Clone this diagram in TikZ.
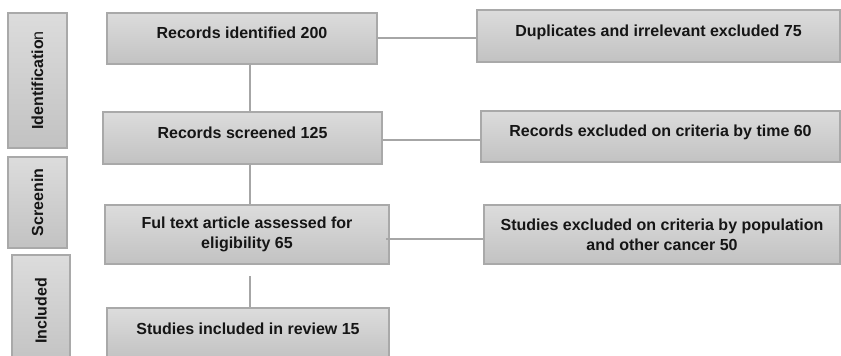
\documentclass[tikz,border=0pt]{standalone}
\usepackage{fontspec}
\setmainfont{Liberation Sans}
\definecolor{boxtop}{HTML}{DCDCDC}
\definecolor{boxbot}{HTML}{C2C2C2}
\definecolor{boxline}{HTML}{A9A9A9}
\definecolor{linec}{HTML}{A6A6A6}
\definecolor{textc}{HTML}{151515}
\begin{document}
\begin{tikzpicture}[x=1pt,y=-1pt,
  box/.style={draw=boxline, line width=1.3pt, top color=boxtop, bottom color=boxbot,
    inner sep=0pt, font=\fontsize{16}{20}\selectfont\bfseries, text=textc, align=center},
  oneline/.style={box, text height=11.7pt, text depth=11pt},
  side/.style={box, rotate=90},
  link/.style={draw=linec, line width=1.2pt}]
\useasboundingbox (0,0) rectangle (841,356);
\clip (0,0) rectangle (841,356);
% stage labels
\node[side, minimum width=135pt, minimum height=59pt] (sid) at (37.5,80.5) {Identificatio\mdseries n};
\node[side, minimum width=91pt, minimum height=59pt] (sscr) at (37.5,202.5) {Screenin};
\node[side, minimum width=112pt, minimum height=58pt] (sinc) at (41,311) {Included};
% main column
\node[oneline, minimum width=270pt, minimum height=51pt] (rid) at (242,38.5) {Records identified 200};
\node[oneline, minimum width=279pt, minimum height=52pt] (rscr) at (242.5,138) {Records screened 125};
\node[box, minimum width=284pt, minimum height=59pt] (ful) at (247,234.5) {Ful text article assessed for\\eligibility 65};
\node[oneline, minimum width=282pt, minimum height=52pt] (inc) at (248,334) {Studies included in review 15};
% exclusion column
\node[oneline, minimum width=363pt, minimum height=52pt] (dup) at (658.5,36) {Duplicates and irrelevant excluded 75};
\node[oneline, minimum width=359pt, minimum height=51pt] (rexc) at (660.5,136.5) {Records excluded on criteria by time 60};
\node[box, minimum width=356pt, minimum height=59pt] (sexc) at (662,234.5) {Studies excluded on criteria by population\\and other cancer 50};
% connectors
\coordinate (lx) at (250,0);
\coordinate (gap) at (250,276);
\coordinate (fr) at (386,239);
\draw[link] (rid.south -| lx) -- (rscr.north -| lx);
\draw[link] (rscr.south -| lx) -- (ful.north -| lx);
\draw[link] (gap) -- (inc.north -| lx);
\draw[link] (rid.east |- 0,38) -- (dup.west |- 0,38);
\draw[link] (rscr.east |- 0,140) -- (rexc.west |- 0,140);
\draw[link] (fr) -- (sexc.west |- fr);
\end{tikzpicture}
\end{document}
